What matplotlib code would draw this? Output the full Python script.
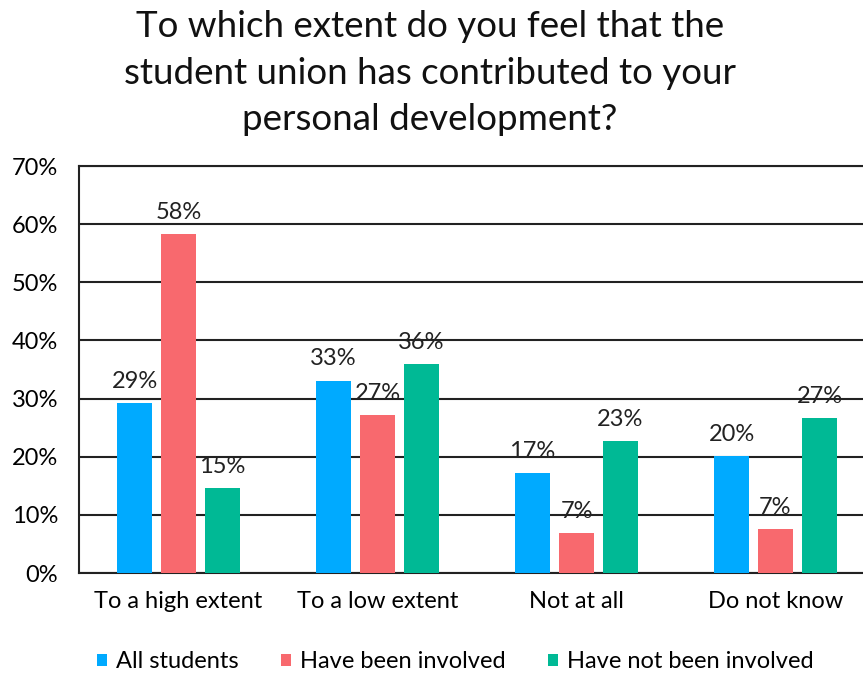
import numpy as np
import matplotlib.pyplot as plt

categories = ['To a high extent', 'To a low extent', 'Not at all', 'Do not know']
series_names = ['All students', 'Have been involved', 'Have not been involved']
all_students = [29.2, 33.1, 17.2, 20.1]
been_involved = [58.3, 27.2, 6.8, 7.5]
not_involved = [14.6, 36.0, 22.7, 26.6]
labels_all = ['29%', '33%', '17%', '20%']
labels_been = ['58%', '27%', '7%', '7%']
labels_not = ['15%', '36%', '23%', '27%']
colors = ['#00AAFF', '#F8696E', '#00B995']

plt.rcParams['font.family'] = ['Lato', 'DejaVu Sans']

fig = plt.figure(figsize=(8.63, 6.75), dpi=100)
# plot area runs a bit past the right edge, as in the cropped original
ax = fig.add_axes([79 / 863, 1 - 573 / 675, 796 / 863, 407 / 675])

x = np.arange(len(categories))
step = 0.221
width = 0.176
data = [all_students, been_involved, not_involved]
texts = [labels_all, labels_been, labels_not]
for i, (vals, labs) in enumerate(zip(data, texts)):
    pos = x + (i - 1) * step
    ax.bar(pos, vals, width=width, color=colors[i], label=series_names[i], zorder=3)
    for p, v, t in zip(pos, vals, labs):
        ax.annotate(t, (p, v), xytext=(0, 8), textcoords='offset points',
                    ha='center', va='bottom', fontsize=17, color='#222222', zorder=4)

ax.set_xlim(-0.5, 3.5)
ax.set_ylim(0, 70)
ax.set_yticks(range(0, 71, 10))
ax.set_yticklabels([f'{v}%' for v in range(0, 71, 10)], fontsize=17)
ax.set_xticks(x)
ax.set_xticklabels(categories, fontsize=17)
ax.tick_params(axis='x', length=0, pad=13)
ax.tick_params(axis='y', length=0, pad=15)
ax.yaxis.grid(True, color='#222222', linewidth=1.5, zorder=0)
for s in ['left', 'top', 'bottom']:
    ax.spines[s].set_color('#222222')
    ax.spines[s].set_linewidth(1.5)
ax.spines['right'].set_visible(False)

fig.text(430 / 863, 1 - 73 / 675,
         'To which extent do you feel that the\nstudent union has contributed to your\npersonal development?',
         ha='center', va='center', fontsize=26.5, linespacing=1.5, color='#111111')

fig.legend(loc='center', bbox_to_anchor=(455 / 863, 1 - 662 / 675), ncol=3, frameon=False,
           fontsize=17, handlelength=0.45, handleheight=0.45, handletextpad=0.35,
           columnspacing=1.8)

fig.savefig('out.png', dpi=100)
